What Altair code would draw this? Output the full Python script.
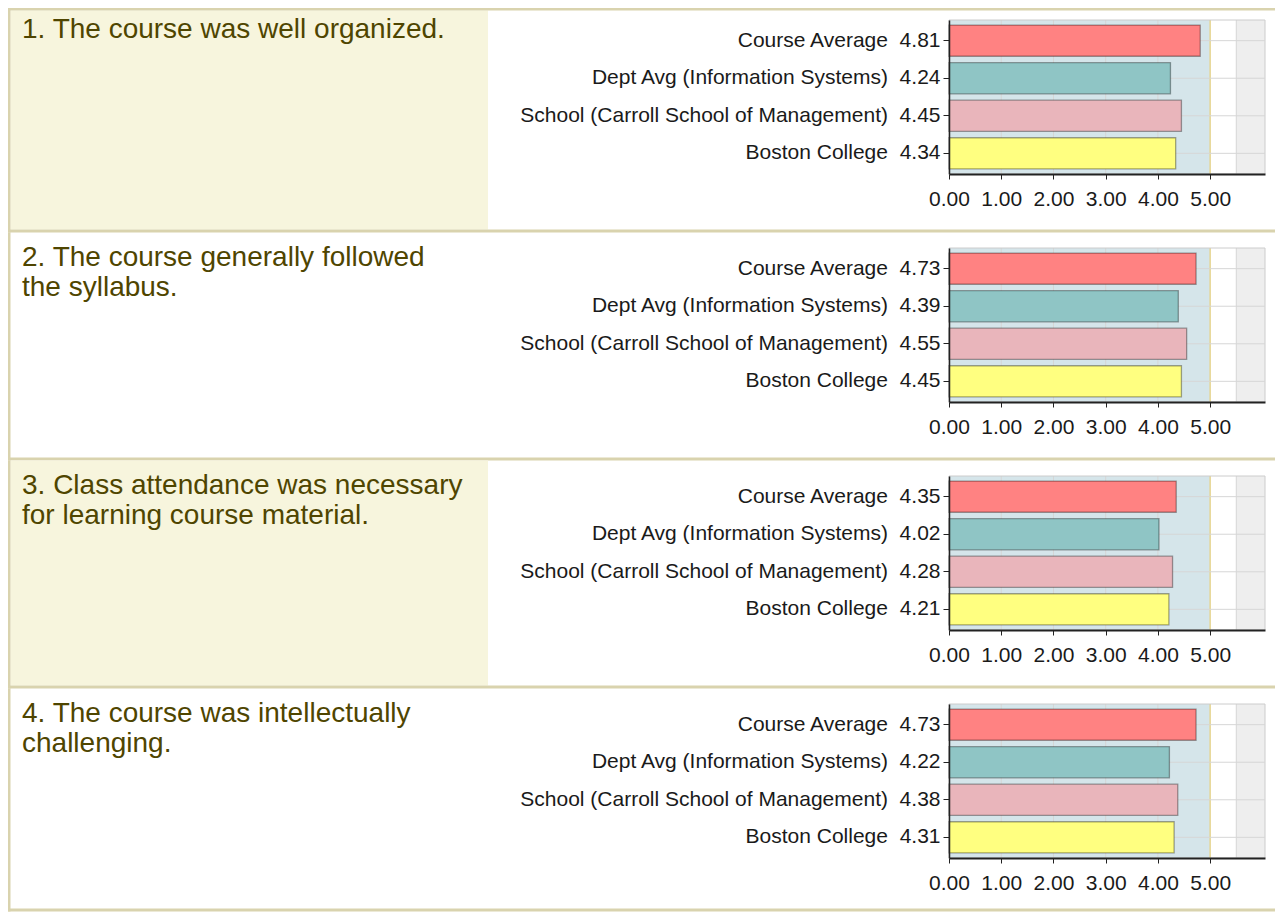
import altair as alt
import pandas as pd

# ---------------- data ----------------
categories = [
    "Course Average",
    "Dept Avg (Information Systems)",
    "School (Carroll School of Management)",
    "Boston College",
]
bar_colors = ["#ff8282", "#8fc5c5", "#e9b5bb", "#ffff80"]
questions = [
    "1. The course was well organized.",
    "2. The course generally followed\nthe syllabus.",
    "3. Class attendance was necessary\nfor learning course material.",
    "4. The course was intellectually\nchallenging.",
]
course_avg = [4.81, 4.73, 4.35, 4.73]
dept_avg = [4.24, 4.39, 4.02, 4.22]
school_avg = [4.45, 4.55, 4.28, 4.38]
bc_avg = [4.34, 4.45, 4.21, 4.31]
x_ticks = [0, 1, 2, 3, 4, 5]
grid_x = [1, 2, 3, 4, 5.5]
limit_x = [5]
zone_start = [0, 5, 5.5]
zone_end = [5, 5.5, 6.05]
zone_color = ["#d5e5ea", "#ffffff", "#eeeeee"]
row_shaded = [True, False, True, False]

# ---------------- layout (pixels, relative to each plot area) ----------------
PW, PH = 316, 154
LEFT = -941
BORDER = 2.5
CELL_RIGHT = -461
RIGHT = 326
SEP0, SEP1 = 209.5, 212.5
BORDER_C = "#d9d3ae"
BEIGE = "#f7f5dd"
TEXT_C = "#4f4500"
FONT = "Liberation Sans"


def row_chart(i):
    vals = [course_avg[i], dept_avg[i], school_avg[i], bc_avg[i]]
    labels = [f"{c}\u00a0\u00a0{v:.2f}" for c, v in zip(categories, vals)]
    df = pd.DataFrame({"cat": categories, "val": vals, "label": labels})
    xs = alt.Scale(domain=[0, 6.05], nice=False, zero=True)
    ys = alt.Scale(domain=labels, paddingInner=0.17, paddingOuter=0.135)
    xaxis = alt.Axis(values=x_ticks, format=".2f", grid=False, zindex=1,
                     labelFlush=False, labelOverlap=False, title=None)
    yaxis = alt.Axis(zindex=1, labelLimit=600, title=None)
    dummy = pd.DataFrame({"d": [0]})
    layers = []

    last = i == len(questions) - 1
    sep0, sep1 = (SEP0 - 5, SEP1 - 5) if last else (SEP0, SEP1)
    row_top = -12 if i == 0 else -15.5
    cell_top = row_top + BORDER if i == 0 else row_top
    # left cell background
    if row_shaded[i]:
        layers.append(
            alt.Chart(dummy).mark_rect(fill=BEIGE).encode(
                x=alt.value(LEFT + BORDER), x2=alt.value(CELL_RIGHT),
                y=alt.value(cell_top), y2=alt.value(sep0),
            )
        )
    # top border (first row only)
    if i == 0:
        layers.append(
            alt.Chart(dummy).mark_rect(fill=BORDER_C).encode(
                x=alt.value(LEFT), x2=alt.value(RIGHT),
                y=alt.value(row_top), y2=alt.value(row_top + BORDER),
            )
        )
    # left border
    layers.append(
        alt.Chart(dummy).mark_rect(fill=BORDER_C).encode(
            x=alt.value(LEFT), x2=alt.value(LEFT + BORDER),
            y=alt.value(row_top), y2=alt.value(sep1),
        )
    )
    # separator below row
    layers.append(
        alt.Chart(dummy).mark_rect(fill=BORDER_C).encode(
            x=alt.value(LEFT), x2=alt.value(RIGHT),
            y=alt.value(sep0), y2=alt.value(sep1),
        )
    )
    # question text
    layers.append(
        alt.Chart(pd.DataFrame({"q": [questions[i]]})).mark_text(
            align="left", baseline="alphabetic", font=FONT, fontSize=28,
            color=TEXT_C, lineBreak="\n", lineHeight=30,
        ).encode(text="q:N", x=alt.value(-927), y=alt.value(18))
    )

    # plot background zones
    zones = pd.DataFrame({"s": zone_start, "e": zone_end})
    for k in range(len(zone_start)):
        layers.append(
            alt.Chart(zones.iloc[[k]]).mark_rect(fill=zone_color[k]).encode(
                x=alt.X("s:Q", scale=xs, axis=xaxis), x2="e:Q",
                y=alt.value(0), y2=alt.value(PH),
            )
        )
    # vertical grid
    layers.append(
        alt.Chart(pd.DataFrame({"s": grid_x})).mark_rule(color="#d6d6d6", strokeWidth=1).encode(
            x=alt.X("s:Q", scale=xs, axis=xaxis)
        )
    )
    layers.append(
        alt.Chart(pd.DataFrame({"s": limit_x})).mark_rule(color="#e6d592", strokeWidth=1.5).encode(
            x=alt.X("s:Q", scale=xs, axis=xaxis)
        )
    )
    # frame
    layers.append(
        alt.Chart(dummy).mark_rect(fillOpacity=0, stroke="#cccccc", strokeWidth=1).encode(
            x=alt.value(0), x2=alt.value(PW), y=alt.value(0), y2=alt.value(PH)
        )
    )
    # horizontal grid at category centres
    layers.append(
        alt.Chart(df).mark_rule(color="#d6d6d6", strokeWidth=1).encode(
            y=alt.Y("label:N", scale=ys, sort=labels, axis=yaxis)
        )
    )
    # bars
    layers.append(
        alt.Chart(df).mark_bar(stroke="#000000", strokeOpacity=0.35, strokeWidth=1.3).encode(
            y=alt.Y("label:N", scale=ys, sort=labels, axis=yaxis),
            x=alt.X("val:Q", scale=xs, axis=xaxis),
            color=alt.Color("cat:N", scale=alt.Scale(domain=categories, range=bar_colors), legend=None),
        )
    )
    return alt.layer(*layers).properties(width=PW, height=PH)


rows = [row_chart(i) for i in range(4)]

chart = (
    alt.vconcat(*rows, spacing=228 - PH, bounds="flush")
    .properties(padding=0, background="white")
    .configure_view(strokeWidth=0)
    .configure_axis(
        labelFont=FONT, labelFontSize=21, labelColor="#1a1a1a",
        domainColor="#222222", tickColor="#222222", grid=False,
    )
    .configure_axisY(tickSize=6, labelPadding=3, domainWidth=1.5, tickWidth=1)
    .configure_axisX(tickSize=5, labelPadding=9, domainWidth=2, tickWidth=1)
)

chart.save("out.html", embed_options={"renderer": "svg", "actions": False})
